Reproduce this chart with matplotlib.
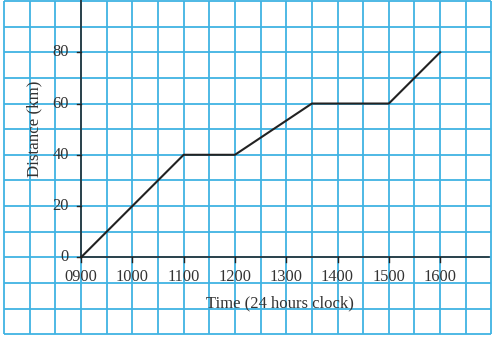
import matplotlib
matplotlib.use("Agg")
import matplotlib.pyplot as plt
import numpy as np

# journey: time in hours, distance in km
hours = [9, 11, 12, 13.5, 15, 16]
distance = [0, 40, 40, 60, 60, 80]
xticks = [9, 10, 11, 12, 13, 14, 15, 16]
xticklabels = ["0900", "1000", "1100", "1200", "1300", "1400", "1500", "1600"]
yticks = [0, 20, 40, 60, 80]

grid_col = "#40b3e3"
serif = "Liberation Serif"

fig = plt.figure(figsize=(4.94, 3.37), dpi=100)
ax = fig.add_axes([0, 0, 1, 1])
ax.set_xlim(7.42, 17.05)
ax.set_ylim(-31.1, 100.4)
for s in ax.spines.values():
    s.set_visible(False)

# graph paper
gx = np.arange(7.5, 17.01, 0.5)
gy = np.arange(-30, 100.1, 10)
ax.vlines(gx, -30, 100, color=grid_col, lw=1.3, zorder=1)
ax.hlines(gy, 7.5, 17, color=grid_col, lw=1.3, zorder=1)

# axes drawn by hand
ax.plot([9, 9], [0, 101], color="#222222", lw=1.1, zorder=2)
ax.plot([9, 16.95], [0, 0], color="#222222", lw=1.1, zorder=2)
ax.tick_params(left=False, bottom=False, labelleft=False, labelbottom=False)

for t, lab in zip(xticks, xticklabels):
    ax.plot([t, t], [0, -2], color="#222222", lw=1.0, zorder=2)
    ax.text(t, -7.5, lab, ha="center", va="center", fontsize=11.8, family=serif, color="#333333")
for v in yticks:
    ax.plot([8.93, 9], [v, v], color="#222222", lw=1.0, zorder=2)
    ax.text(8.76, v, str(v), ha="right", va="center", fontsize=11.8, family=serif, color="#333333")

ax.text(12.87, -17.8, "Time (24 hours clock)", ha="center", va="center",
        fontsize=12, family=serif, color="#333333")
ax.text(8.1, 50, "Distance (km)", ha="center", va="center", rotation=90,
        fontsize=12.2, family=serif, color="#333333")

ax.plot(hours, distance, color="#222222", lw=1.5, zorder=3)

fig.savefig("out.png", dpi=100)
